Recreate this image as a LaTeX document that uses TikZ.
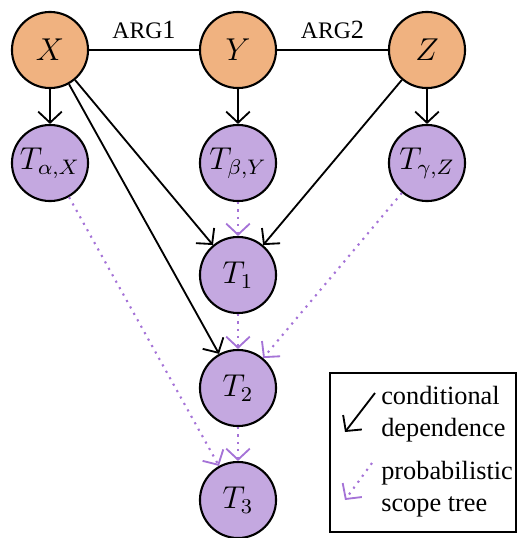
\documentclass[tikz,border=0pt]{standalone}
\usepackage{fontspec}
\setmainfont{Liberation Serif}
\newfontfamily\timesfont{Liberation Serif}
\usetikzlibrary{arrows.meta}
\definecolor{orng}{RGB}{240,178,128}
\definecolor{purp}{RGB}{196,168,224}
\definecolor{parr}{RGB}{165,115,215}
\newcommand{\fakesc}[1]{{\small #1}}
\begin{document}
\begin{tikzpicture}[x=0.38pt,y=-0.38pt,
  var/.style={circle,draw,line width=0.8pt,fill=orng,minimum size=28.9pt,inner sep=0pt,font=\large},
  tree/.style={circle,draw,line width=0.8pt,fill=purp,minimum size=28.9pt,inner sep=0pt,font=\large},
  dep/.style={line width=0.7pt,-{Straight Barb[length=4.2pt,width=9pt,line width=0.7pt]}},
  pst/.style={line width=0.8pt,parr,dotted,-{Straight Barb[length=4.2pt,width=9pt,line width=0.7pt,line cap=butt]}},
  lbl/.style={font=\timesfont\normalsize}]
\useasboundingbox (0,0) rectangle (518,538);
\node[var] (X) at (50,50) {$X$};
\node[var] (Y) at (238,50) {$Y$};
\node[var] (Z) at (427,50) {$Z$};
\node[tree] (TA) at (50,163) {$T_{\alpha,X}$};
\node[tree] (TB) at (238,163) {$T_{\beta,Y}$};
\node[tree] (TG) at (427,163) {$T_{\gamma,Z}$};
\node[tree] (T1) at (238,275) {$T_1$};
\node[tree] (T2) at (238,388) {$T_2$};
\node[tree] (T3) at (238,500) {$T_3$};
\draw[line width=0.7pt] (X) -- node[above=0.5pt,lbl] {\fakesc{ARG}1} (Y);
\draw[line width=0.7pt] (Y) -- node[above=0.5pt,lbl] {\fakesc{ARG}2} (Z);
\draw[dep] (X) -- (TA);
\draw[dep] (Y) -- (TB);
\draw[dep] (Z) -- (TG);
\draw[dep] (X) -- (T1);
\draw[dep] (X) -- (T2);
\draw[dep] (Z) -- (T1);
\draw[pst] (TB) -- (T1);
\draw[pst] (T1) -- (T2);
\draw[pst] (T2) -- (T3);
\draw[pst] (TG) -- (T2);
\draw[pst] (TA) -- (T3);
% legend
\node[draw,line width=0.8pt,minimum width=186*0.38pt,minimum height=159*0.38pt,inner sep=0pt] (leg) at (423,452.5) {};
\node[lbl,align=left,anchor=west] (l1) at (372,414) {conditional\\dependence};
\node[lbl,align=left,anchor=west] (l2) at (372,489) {probabilistic\\scope tree};
\coordinate (a1s) at (375,393);
\coordinate (a1e) at (345,432);
\coordinate (a2s) at (372,463);
\coordinate (a2e) at (345,500);
\draw[dep] (a1s) -- (a1e);
\draw[pst] (a2s) -- (a2e);
\end{tikzpicture}
\end{document}
